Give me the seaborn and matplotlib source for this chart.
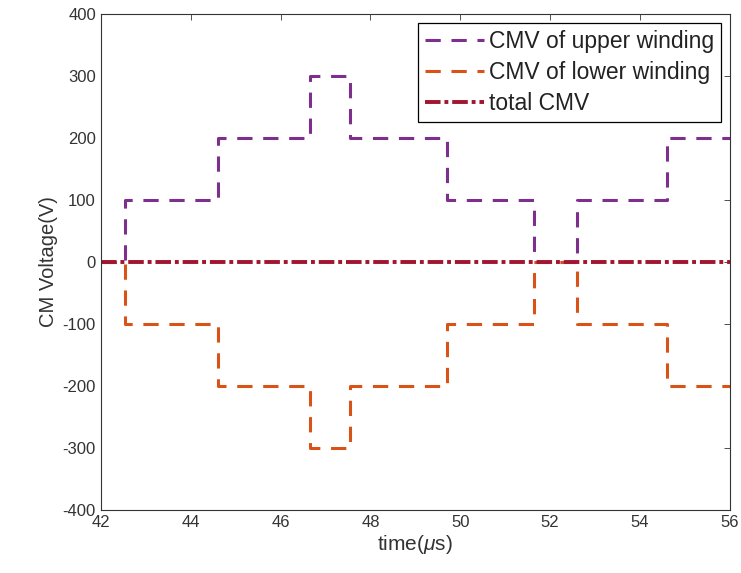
import pandas as pd
import matplotlib.pyplot as plt
import seaborn as sns

# step edges (time in us) and CM voltage levels
time_us = [42.0, 42.55, 44.6, 46.65, 47.55, 49.7, 51.65, 52.6, 54.6, 56.0]
cmv_upper = [0, 100, 200, 300, 200, 100, 0, 100, 200, 200]
cmv_lower = [0, -100, -200, -300, -200, -100, 0, -100, -200, -200]
cmv_total = [0, 0, 0, 0, 0, 0, 0, 0, 0, 0]

sns.set_style('white')
plt.rcParams['font.family'] = ['Liberation Sans', 'DejaVu Sans']
plt.rcParams['mathtext.fontset'] = 'custom'
plt.rcParams['mathtext.it'] = 'Liberation Sans:italic'
plt.rcParams['axes.unicode_minus'] = False

df = pd.DataFrame({'t': time_us, 'upper': cmv_upper, 'lower': cmv_lower, 'total': cmv_total})

fig = plt.figure(figsize=(7.41, 5.73), dpi=100)
ax = fig.add_axes([0.136, 0.11, 0.849, 0.866])

sns.lineplot(data=df, x='t', y='upper', ax=ax, color='#7E2F8E', lw=2.2,
             drawstyle='steps-post', dashes=False, label='CMV of upper winding')
sns.lineplot(data=df, x='t', y='lower', ax=ax, color='#D95319', lw=2.2,
             drawstyle='steps-post', dashes=False, label='CMV of lower winding')
sns.lineplot(data=df, x='t', y='total', ax=ax, color='#A2142F', lw=2.8,
             drawstyle='steps-post', dashes=False, label='total CMV')

lines = ax.get_lines()
lines[0].set_dashes((5, 3.5))
lines[1].set_dashes((5, 3.5))
lines[2].set_dashes((4, 1, 1, 1))

ax.set_xlim(42, 56)
ax.set_ylim(-400, 400)
ax.set_xticks(range(42, 57, 2))
ax.set_yticks(range(-400, 401, 100))
ax.set_xlabel(r'time($\mu$s)', fontsize=15, color='#333333', labelpad=2)
ax.set_ylabel('CM Voltage(V)', fontsize=14.5, color='#333333', labelpad=3)
ax.tick_params(direction='in', top=True, right=True, length=4, labelsize=12,
               colors='#333333', width=0.6)
for s in ax.spines.values():
    s.set_color('#333333')
    s.set_linewidth(0.8)

leg = ax.legend(loc='upper right', fontsize=16.5, frameon=True, fancybox=False,
                edgecolor='black', framealpha=1, handlelength=2.6, handletextpad=0.2,
                borderaxespad=0.4, labelspacing=0.35, borderpad=0.3)
leg.get_frame().set_linewidth(0.9)
for t in leg.get_texts():
    t.set_color('#222222')

fig.savefig('out.png', dpi=100)
